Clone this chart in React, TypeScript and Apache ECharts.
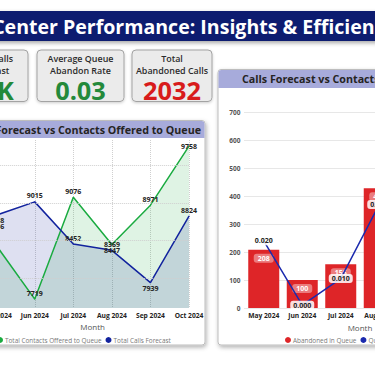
import React, { useEffect, useRef } from "react";
import * as echarts from "echarts";

const months = ["May 2024", "Jun 2024", "Jul 2024", "Aug 2024", "Sep 2024", "Oct 2024"];
const contactsOffered = [8436, 7719, 9076, 8447, 8971, 9758];
const callsForecast = [8838, 9015, 8452, 8369, 7939, 8824];
const abandonedInQueue = [208, 100, 156, 428, 492, 648];
const queueAbandonRate = [0.024, 0.001, 0.0105, 0.037, 0.041, 0.052];
const leftGridValues = [8000, 8500, 9000, 9500];
const rightTicks = { min: 0, max: 700, interval: 100 };

const dashboardTitle = "Call Center Performance: Insights & Efficiency";
const chartTitle = "Calls Forecast vs Contacts Offered to Queue";

const greenLabelPos = ["top", "top", "top", "bottom", "top", "inside"];
const greenLabelOffset = [[0, -13], [0, 0], [0, 0], [0, 0], [0, 0], [0, 0]];
const blueLabelPos = ["bottom", "top", "top", "top", "bottom", "top"];
const blueLabelOffset = [[0, -1], [0, 0], [0, 0], [0, 0], [0, 0], [0, 0]];

const OFF = 80;
const EXTRA = 220;
const W = 375 + OFF + EXTRA;
const X = (x: number) => x + OFF;

const GREEN = "#1AAB40";
const NAVY = "#12239E";
const RED = "#DE2528";
const FONT = '"Open Sans", "Noto Sans", sans-serif';

function measure(text: string, font: string) {
  const c = document.createElement("canvas").getContext("2d")!;
  c.font = font;
  return c.measureText(text).width;
}

export default function App() {
  const ref = useRef<HTMLDivElement>(null);
  useEffect(() => {
    const chart = echarts.init(ref.current!, undefined, { renderer: "svg" });

    const titleFs = (20 * 312) / measure("Performance: Insights & Efficien", `bold 20px ${FONT}`);
    const titleX = 63 - measure("Call Center ", `bold ${titleFs}px ${FONT}`);
    const panelFs = (12 * 200) / measure("orecast vs Contacts Offered to Queue", `bold 12px ${FONT}`);
    const cardFs = (10 * 66) / measure("Average Queue", `600 10px ${FONT}`);
    const valFs = (20 * 58) / measure("2032", `bold 20px ${FONT}`);

    const totalForecast = callsForecast.reduce((a, b) => a + b, 0);
    const avgRate = queueAbandonRate.reduce((a, b) => a + b, 0) / queueAbandonRate.length;
    const totalAband = abandonedInQueue.reduce((a, b) => a + b, 0);

    const cards = [
      { x: -46, w: 74, l1: "Total Calls", l2: "Forecast", v: Math.round(totalForecast / 1000) + "K", c: "#23893A" },
      { x: 37, w: 87, l1: "Average Queue", l2: "Abandon Rate", v: avgRate.toFixed(2), c: "#23893A" },
      { x: 132, w: 80, l1: "Total", l2: "Abandoned Calls", v: String(totalAband), c: "#D81B1B" },
    ];

    const graphic: any[] = [
      {
        type: "rect",
        shape: { x: 0, y: 11, width: W, height: 30 },
        style: { fill: "#0F1B70", shadowBlur: 4, shadowOffsetY: 2, shadowColor: "rgba(0,0,0,0.35)" },
      },
      {
        type: "text",
        x: X(titleX),
        y: 26.5,
        style: { text: dashboardTitle, fill: "#ffffff", fontSize: titleFs, fontWeight: "bold", fontFamily: FONT, verticalAlign: "middle", align: "left" },
      },
    ];
    cards.forEach((cd) => {
      const cx = X(cd.x + cd.w / 2);
      graphic.push(
        {
          type: "rect",
          shape: { x: X(cd.x), y: 50, width: cd.w, height: 51.5, r: 4 },
          style: { fill: "#EBEBEB", stroke: "#A3A3A3", lineWidth: 1, shadowBlur: 3, shadowOffsetY: 1, shadowColor: "rgba(0,0,0,0.2)" },
        },
        { type: "text", x: cx, y: 58.5, style: { text: cd.l1, fill: "#2b2b2b", fontSize: cardFs, fontWeight: 600, fontFamily: FONT, align: "center", verticalAlign: "middle" } },
        { type: "text", x: cx, y: 70.5, style: { text: cd.l2, fill: "#2b2b2b", fontSize: cardFs, fontWeight: 600, fontFamily: FONT, align: "center", verticalAlign: "middle" } },
        { type: "text", x: cx, y: 89.5, style: { text: cd.v, fill: cd.c, fontSize: valFs, fontWeight: "bold", fontFamily: FONT, align: "center", verticalAlign: "middle" } }
      );
    });
    graphic.push(
      {
        type: "rect",
        shape: { x: X(-70), y: 120.5, width: 275, height: 224.5, r: 3 },
        style: { fill: "#fff", stroke: "#BDBDBD", lineWidth: 1, shadowBlur: 4, shadowOffsetX: 1, shadowOffsetY: 2, shadowColor: "rgba(0,0,0,0.3)" },
      },
      { type: "rect", shape: { x: X(-69.5), y: 121, width: 274, height: 17, r: [3, 3, 0, 0] }, style: { fill: "#A7ABDB" } },
      { type: "text", x: X(201), y: 129.5, style: { text: chartTitle, fill: "#252423", fontSize: panelFs, fontWeight: "bold", fontFamily: FONT, align: "right", verticalAlign: "middle" } },
      {
        type: "rect",
        shape: { x: X(218), y: 69.5, width: 280, height: 275.5, r: 3 },
        style: { fill: "#fff", stroke: "#BDBDBD", lineWidth: 1, shadowBlur: 4, shadowOffsetX: 1, shadowOffsetY: 2, shadowColor: "rgba(0,0,0,0.3)" },
      },
      { type: "rect", shape: { x: X(218.5), y: 70, width: 279, height: 18, r: [3, 3, 0, 0] }, style: { fill: "#A7ABDB" } },
      { type: "text", x: X(242), y: 79, style: { text: chartTitle, fill: "#252423", fontSize: panelFs, fontWeight: "bold", fontFamily: FONT, align: "left", verticalAlign: "middle" } }
    );

    const lbl = { fontSize: 7, fontWeight: "bold", color: "#252423", fontFamily: FONT, distance: 2 };
    const mk = (vals: number[], pos: string[], offs: number[][]) =>
      vals.map((v, i) => ({ value: v, label: { position: pos[i], offset: offs[i] } }));

    const legendText = { fontSize: 6.4, color: "#777", fontFamily: FONT, padding: [0, 0, 0, -3] };

    const option: any = {
      animation: false,
      backgroundColor: "#ffffff",
      graphic,
      grid: [
        { left: X(-3.8), top: 140, width: 192.8, height: 168 },
        { left: X(244.5), top: 112, width: 231, height: 196 },
      ],
      xAxis: [
        {
          type: "category", gridIndex: 0, data: months, boundaryGap: false,
          axisLine: { show: false }, axisTick: { show: false },
          axisLabel: { interval: 0, fontSize: 6.7, fontWeight: "bold", color: "#252423", margin: 4, fontFamily: FONT },
          splitLine: { show: true, interval: 0, lineStyle: { type: "dotted", color: "#CFCFCF" } },
          name: "Month", nameLocation: "middle", nameGap: 14,
          nameTextStyle: { fontSize: 8, color: "#555", fontFamily: FONT },
        },
        {
          type: "category", gridIndex: 1, data: months,
          axisLine: { show: false }, axisTick: { show: false },
          axisLabel: { interval: 0, fontSize: 6.7, fontWeight: "bold", color: "#252423", margin: 4, fontFamily: FONT },
          name: "Month", nameLocation: "middle", nameGap: 14,
          nameTextStyle: { fontSize: 8, color: "#555", fontFamily: FONT },
        },
      ],
      yAxis: [
        { type: "value", gridIndex: 0, min: 7600, max: 9840, axisLabel: { show: false }, splitLine: { show: false }, axisLine: { show: false }, axisTick: { show: false } },
        {
          type: "value", gridIndex: 1, min: rightTicks.min, max: rightTicks.max, interval: rightTicks.interval,
          axisLabel: { fontSize: 6.5, fontWeight: "bold", color: "#555", margin: 4, fontFamily: FONT },
          splitLine: { lineStyle: { type: "dotted", color: "#CFCFCF" } },
        },
        { type: "value", gridIndex: 1, min: 0, max: 0.07, show: false, splitLine: { show: false } },
      ],
      legend: [
        {
          data: ["Total Contacts Offered to Queue", "Total Calls Forecast"],
          left: X(-8), top: 332, icon: "circle", itemWidth: 6, itemHeight: 6, itemGap: 4,
          textStyle: legendText,
        },
        {
          data: ["Abandoned in Queue", "Queue Abandon Rate"],
          left: X(280), top: 332, icon: "circle", itemWidth: 6, itemHeight: 6, itemGap: 4,
          textStyle: legendText,
        },
      ],
      series: [
        {
          name: "Total Contacts Offered to Queue", type: "line", xAxisIndex: 0, yAxisIndex: 0,
          data: mk(contactsOffered, greenLabelPos, greenLabelOffset), color: GREEN,
          symbol: "circle", symbolSize: 1, lineStyle: { width: 1.5 },
          areaStyle: { color: "rgba(26,171,64,0.2)" },
          label: { show: true, ...lbl },
          markLine: {
            silent: true, symbol: "none", label: { show: false },
            lineStyle: { type: "dotted", color: "#CFCFCF", width: 1 },
            data: leftGridValues.map((v) => ({ yAxis: v })),
          },
        },
        {
          name: "Total Calls Forecast", type: "line", xAxisIndex: 0, yAxisIndex: 0,
          data: mk(callsForecast, blueLabelPos, blueLabelOffset), color: NAVY,
          symbol: "circle", symbolSize: 1, lineStyle: { width: 1.5 },
          areaStyle: { color: "rgba(18,35,158,0.2)" },
          label: { show: true, ...lbl },
        },
        {
          name: "Abandoned in Queue", type: "bar", xAxisIndex: 1, yAxisIndex: 1,
          data: abandonedInQueue, color: RED, barWidth: 31,
          label: {
            show: true, position: "insideTop", distance: 4, color: "#fff", fontSize: 7, fontWeight: "bold", fontFamily: FONT,
            backgroundColor: "rgba(255,255,255,0.4)", borderRadius: 3, padding: [1, 4],
          },
        },
        {
          name: "Queue Abandon Rate", type: "line", xAxisIndex: 1, yAxisIndex: 2,
          data: queueAbandonRate, color: "#1B2AAE", symbol: "circle", symbolSize: 1,
          lineStyle: { width: 1.5 },
          label: {
            show: true, position: "inside", color: "#252423", fontSize: 7, fontWeight: "bold", fontFamily: FONT,
            backgroundColor: "rgba(255,255,255,0.85)", borderRadius: 3, padding: [1, 3],
            formatter: (p: any) => (Math.round(p.value * 100) / 100).toFixed(3),
          },
        },
      ],
    };
    chart.setOption(option);
    return () => chart.dispose();
  }, []);

  return (
    <div style={{ position: "absolute", left: 0, top: 0, width: 375, height: 375, overflow: "hidden", background: "#fff" }}>
      <div ref={ref} style={{ position: "absolute", left: -OFF, top: 0, width: W, height: 375 }} />
    </div>
  );
}
